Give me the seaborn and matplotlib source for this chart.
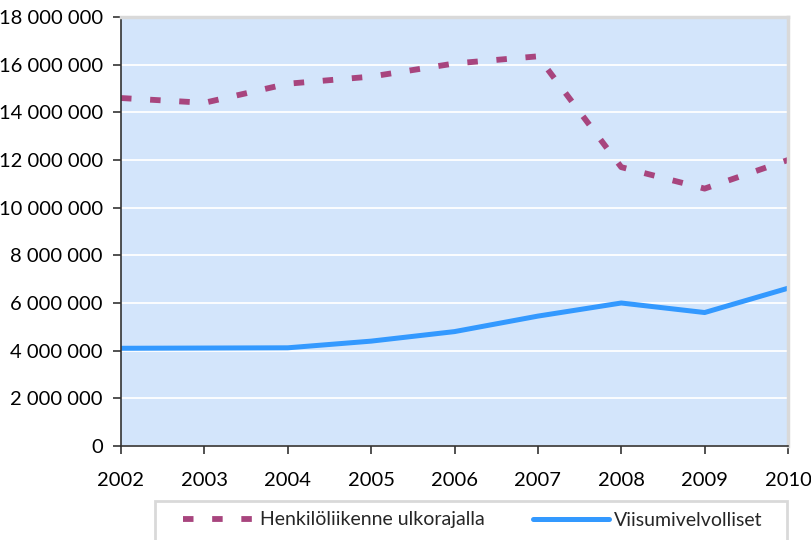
import pandas as pd
import numpy as np
import matplotlib
matplotlib.use("Agg")
import matplotlib.pyplot as plt
import seaborn as sns
from matplotlib.ticker import FuncFormatter
from matplotlib.patches import Rectangle

years = [2002, 2003, 2004, 2005, 2006, 2007, 2008, 2009, 2010]
henkiloliikenne = [14600000, 14400000, 15200000, 15500000, 16050000, 16350000, 11700000, 10800000, 12000000]
viisumi = [4100000, 4110000, 4120000, 4400000, 4800000, 5450000, 6000000, 5600000, 6620000]
labels = ["Henkilöliikenne ulkorajalla", "Viisumivelvolliset"]

df = pd.DataFrame({"year": years, labels[0]: henkiloliikenne, labels[1]: viisumi})

sns.set_theme(style="ticks")
plt.rcParams["font.family"] = ["Lato", "DejaVu Sans"]

fig = plt.figure(figsize=(8.11, 5.4), dpi=100)
ax = fig.add_axes([121 / 811, 1 - 446 / 540, 667 / 811, 429 / 540])
ax.set_facecolor("#d3e5fb")

sns.lineplot(x="year", y=labels[0], data=df, ax=ax, color="#a8457e", linewidth=4.2,
             label=labels[0])
ax.lines[-1].set_dashes((1.8, 3.2))
ax.lines[-1].set_dash_capstyle("butt")
sns.lineplot(x="year", y=labels[1], data=df, ax=ax, color="#3399ff", linewidth=3.6,
             label=labels[1])

ax.set_xlim(2002, 2010)
ax.set_ylim(0, 18000000)
ax.set_xticks(years)
ax.set_yticks(np.arange(0, 18000001, 2000000))
ax.yaxis.set_major_formatter(FuncFormatter(lambda v, p: f"{int(v):,}".replace(",", " ")))
ax.grid(axis="y", color="white", linewidth=1.3)
ax.set_axisbelow(True)
ax.set_xlabel("")
ax.set_ylabel("")
ax.tick_params(axis="both", labelsize=14.5, length=6, width=1.2, color="#333333",
               labelcolor="black")
ax.tick_params(axis="x", pad=13)
ax.tick_params(axis="y", pad=7)
for s in ["left", "bottom"]:
    ax.spines[s].set_color("#333333")
    ax.spines[s].set_linewidth(1.2)
for s in ["top", "right"]:
    ax.spines[s].set_color("#d9d9d9")
    ax.spines[s].set_linewidth(2.5)

ax.get_legend().remove()
handles, lbls = ax.get_legend_handles_labels()
fig.patches.append(Rectangle((155 / 811, -0.05), 632 / 811, 1 - 501 / 540 + 0.05,
                             transform=fig.transFigure, facecolor="white",
                             edgecolor="#d9d9d9", linewidth=2))
for h, l, x0, hl in [(handles[0], lbls[0], 183, 3.7), (handles[1], lbls[1], 533, 3.9)]:
    fig.legend([h], [l], loc="center left", bbox_to_anchor=(x0 / 811, 1 - 520 / 540),
               frameon=False, fontsize=14, handlelength=hl, handletextpad=0.25,
               borderpad=0, borderaxespad=0)

fig.savefig("out.png", dpi=100)
